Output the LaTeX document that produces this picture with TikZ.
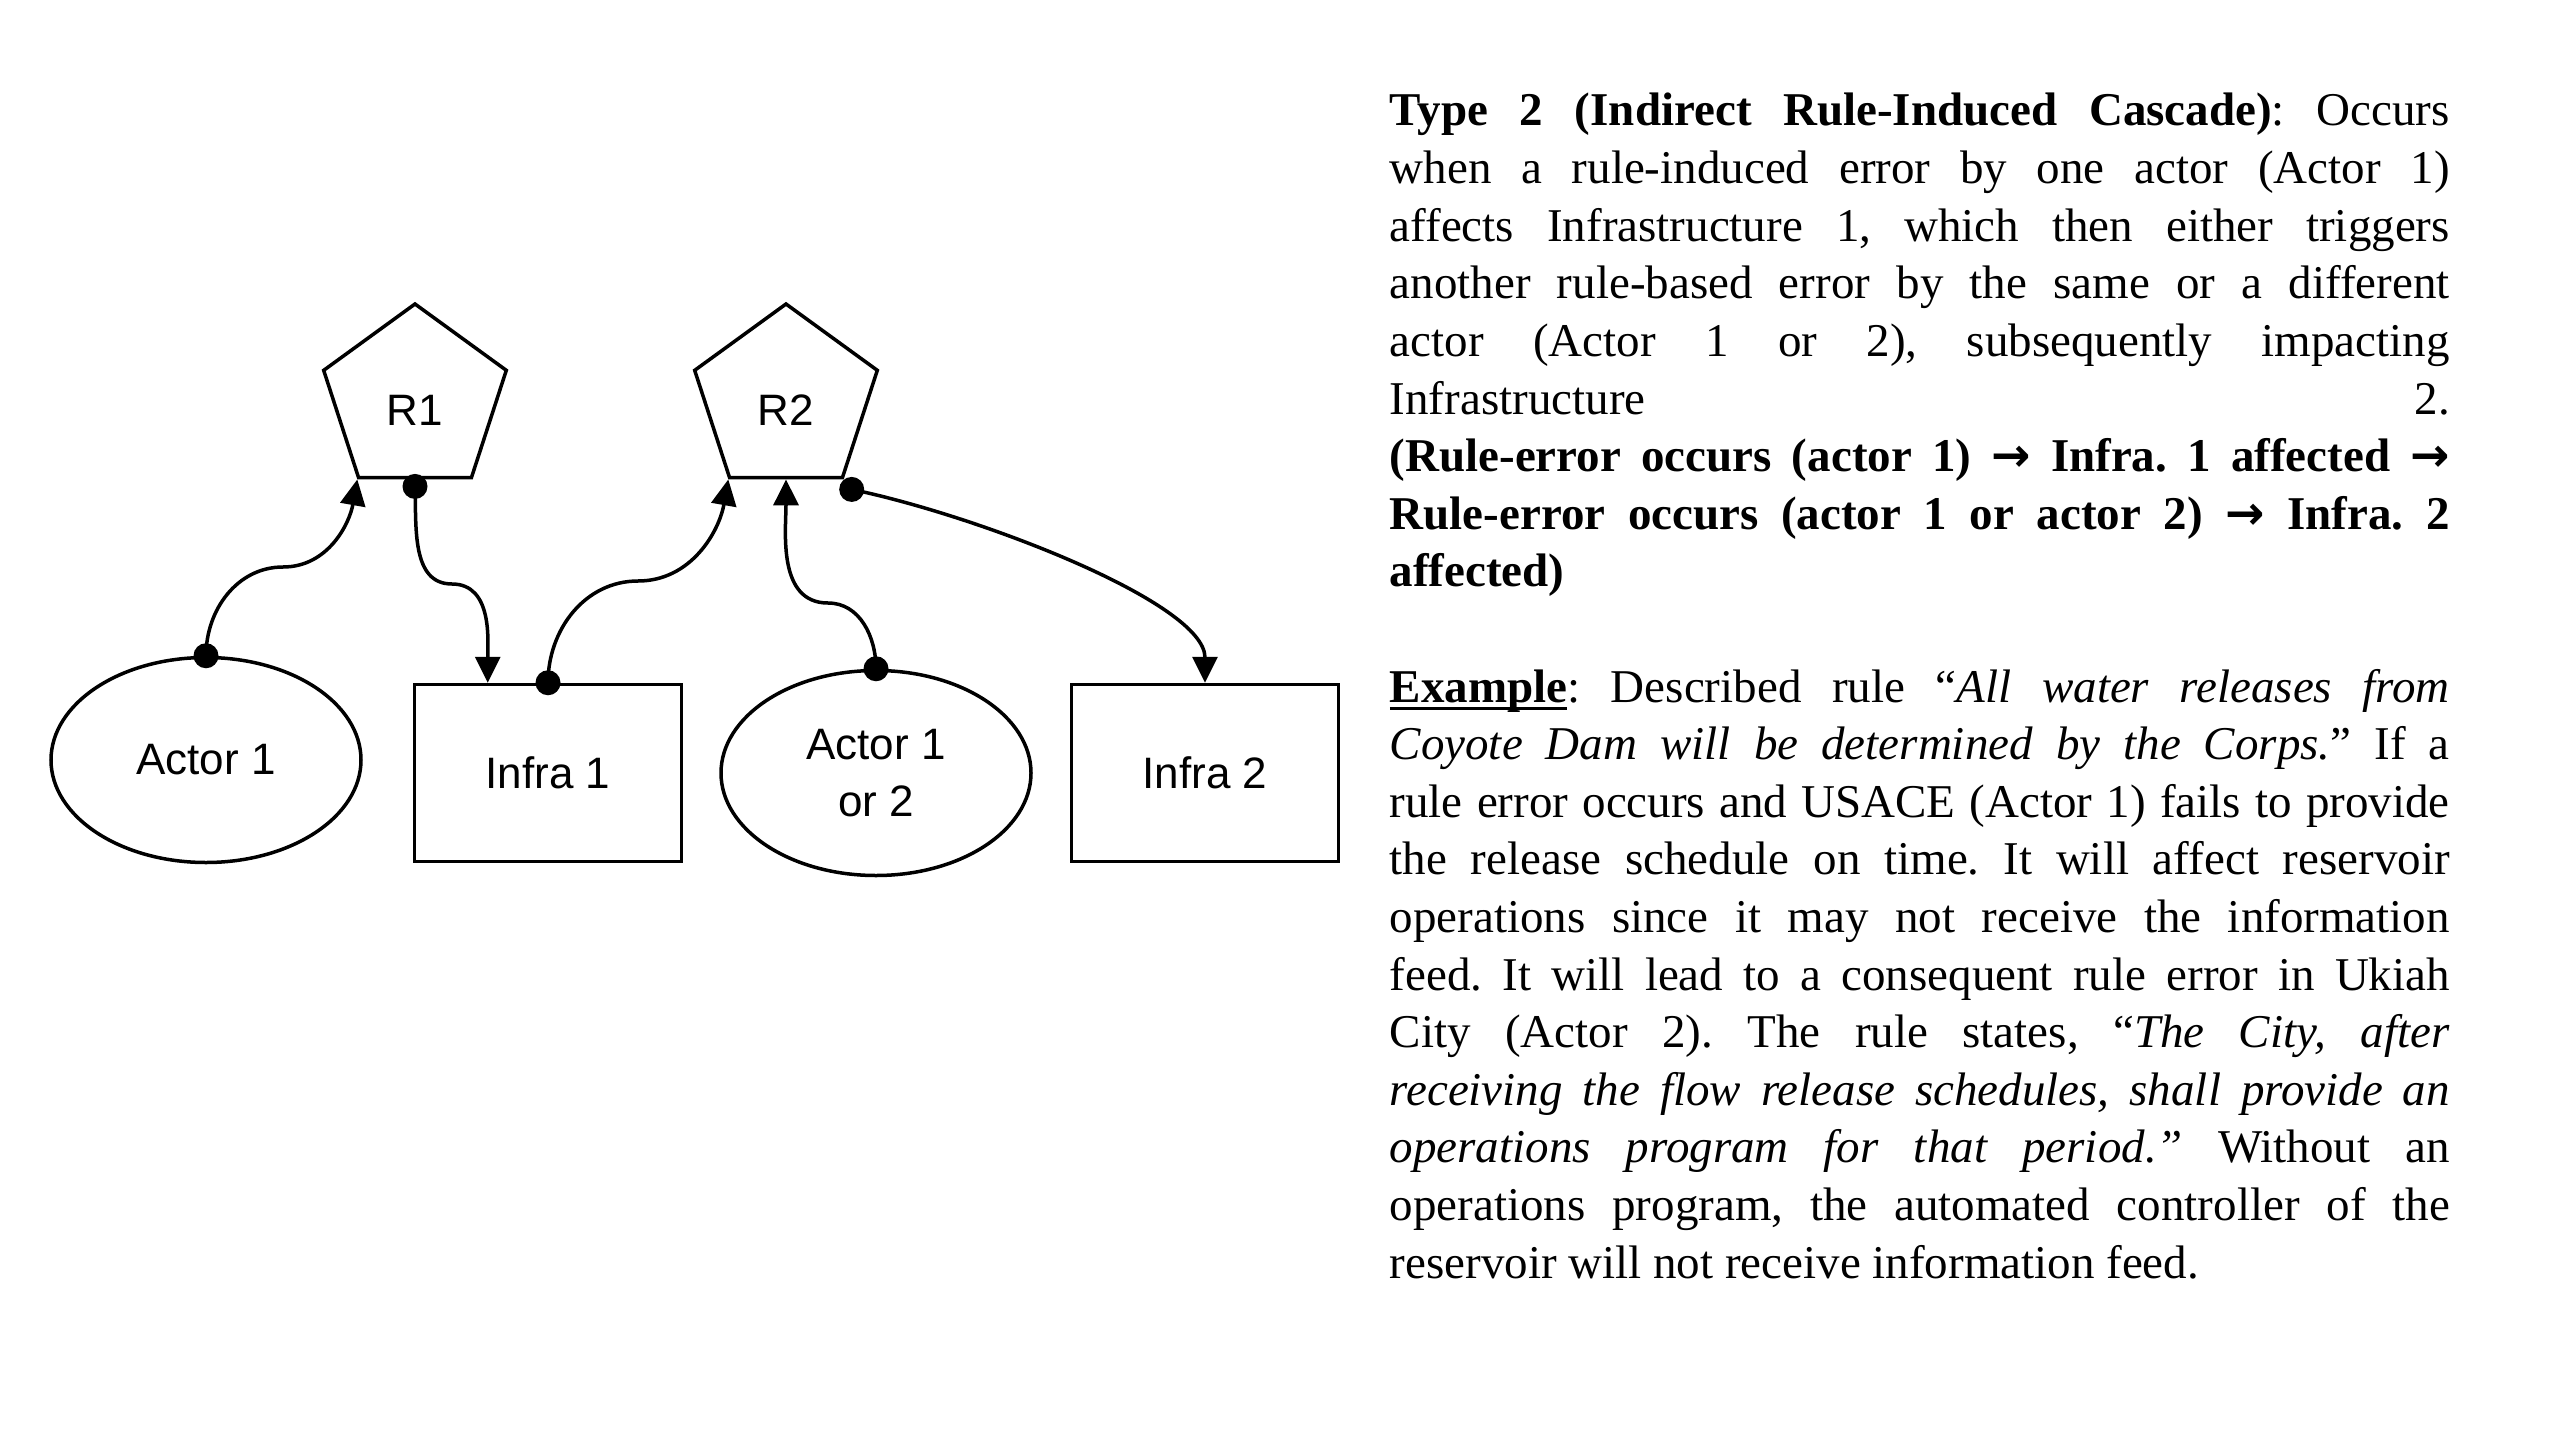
\documentclass[tikz,border=0pt]{standalone}
\usepackage{fontspec}
\setmainfont{Liberation Serif}
\newfontfamily\diagfont{Liberation Sans}
\newfontfamily\arrfont{DejaVu Sans}
\usetikzlibrary{shapes.geometric,arrows.meta}
\newcommand\ulx[1]{\setbox0\hbox{#1}\rlap{\rule[-8bp]{\wd0}{3bp}}\box0}
\newcommand\rarr{{\arrfont\bfseries →}}
\newcommand\nodefont{\diagfont\fontsize{44bp}{57bp}\selectfont}
\begin{document}
\begin{tikzpicture}[x=1bp,y=-1bp,line width=3.5bp,
  rulebox/.style={draw, regular polygon, regular polygon sides=5, minimum size=192bp, inner sep=0pt, font=\nodefont},
  actorbox/.style={draw, ellipse, minimum width=310bp, minimum height=205bp, inner sep=0pt, align=center, font=\nodefont},
  infrabox/.style={draw, rectangle, minimum width=267bp, minimum height=177bp, inner sep=0pt, font=\nodefont},
  conn/.style={-{Triangle[length=26bp,width=25bp]}, line width=3.5bp},
  dotmark/.style={fill=black}]
\fill[white] (0,0) rectangle (2560,1440);
\useasboundingbox (0,0) rectangle (2560,1440);

% nodes
\node[rulebox] (r1) at (415,400) {\raisebox{-10bp}[\height][\depth]{R1}};
\node[rulebox] (r2) at (786,400) {\raisebox{-10bp}[\height][\depth]{R2}};
\node[actorbox] (a1) at (206,760) {Actor 1};
\node[infrabox] (i1) at (548,773) {Infra 1};
\node[actorbox] (a2) at (876,773) {Actor 1\\or 2};
\node[infrabox] (i2) at (1205,773) {Infra 2};

% helper coordinates
\coordinate (m1) at (283,567);
\coordinate (m2) at (452,584);
\coordinate (m3) at (638,581);
\coordinate (m4) at (828,603);
\coordinate (d1) at ([yshift=-7bp]r1.side 3);
\coordinate (d2) at ([xshift=8bp,yshift=-10bp]r2.corner 4);
\coordinate (t1) at ([xshift=75bp]i1.north west);

% connectors
\draw[conn] (a1.north) to[out=90,in=180] (m1) to[out=0,in=-100] (r1.corner 3);
\draw[conn] (d1) to[out=-88,in=180] (m2) to[out=0,in=90] (t1);
\draw[conn] (i1.north) to[out=90,in=180] (m3) to[out=0,in=-100] (r2.corner 3);
\draw[conn] (a2.north) to[out=90,in=0] (m4) to[out=180,in=-90] (r2.side 3);
\draw[conn] (d2) .. controls +(126,26) and +(0,-80) .. (i2.north);

% dots
\fill[dotmark] (a1.north) circle (12.5bp);
\fill[dotmark] (d1) circle (12.5bp);
\fill[dotmark] (i1.north) circle (12.5bp);
\fill[dotmark] (a2.north) circle (12.5bp);
\fill[dotmark] (d2) circle (12.5bp);

% text
\node[anchor=base west, inner sep=0pt] (txt) at (1388,126) {\begin{minipage}[t]{1060bp}%
\fontsize{47bp}{57.6bp}\selectfont\setlength{\parindent}{0pt}\frenchspacing
\makebox[\linewidth][s]{\textbf{Type 2 (Indirect Rule-Induced Cascade)}: Occurs}\\
\makebox[\linewidth][s]{when a rule-induced error by one actor (Actor 1)}\\
\makebox[\linewidth][s]{affects Infrastructure 1, which then either triggers}\\
\makebox[\linewidth][s]{another rule-based error by the same or a different}\\
\makebox[\linewidth][s]{actor (Actor 1 or 2), subsequently impacting}\\
\makebox[\linewidth][s]{Infrastructure 2.}\\
\makebox[\linewidth][s]{\textbf{(Rule-error occurs (actor 1) \rarr{} Infra. 1 affected \rarr}}\\
\makebox[\linewidth][s]{\textbf{Rule-error occurs (actor 1 or actor 2) \rarr{} Infra. 2}}\\
\textbf{affected)}\par
\vspace{57.6bp}%
\makebox[\linewidth][s]{\ulx{\textbf{Example}}: Described rule “\textit{All water releases from}}\\
\makebox[\linewidth][s]{\textit{Coyote Dam will be determined by the Corps.}” If a}\\
\makebox[\linewidth][s]{rule error occurs and USACE (Actor 1) fails to provide}\\
\makebox[\linewidth][s]{the release schedule on time. It will affect reservoir}\\
\makebox[\linewidth][s]{operations since it may not receive the information}\\
\makebox[\linewidth][s]{feed. It will lead to a consequent rule error in Ukiah}\\
\makebox[\linewidth][s]{City (Actor 2). The rule states, “\textit{The City, after}}\\
\makebox[\linewidth][s]{\textit{receiving the flow release schedules, shall provide an}}\\
\makebox[\linewidth][s]{\textit{operations program for that period.”} Without an}\\
\makebox[\linewidth][s]{operations program, the automated controller of the}\\
reservoir will not receive information feed.
\end{minipage}};
\end{tikzpicture}
\end{document}
